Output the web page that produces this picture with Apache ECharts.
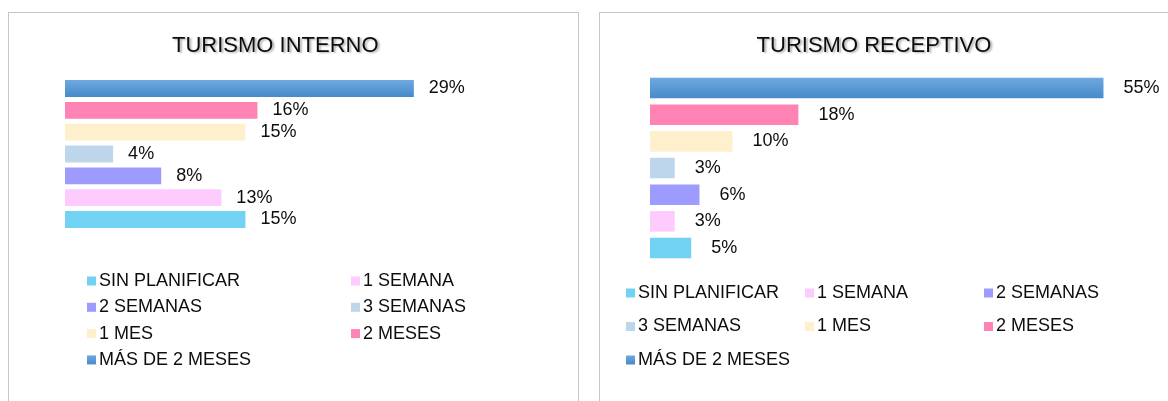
<!DOCTYPE html>
<html>
<head>
<meta charset="utf-8">
<script src="https://cdn.jsdelivr.net/npm/echarts@6/dist/echarts.min.js"></script>
<style>
    html, body { margin: 0; padding: 0; background: #fff; }
    body { width: 1168px; height: 401px; position: relative; overflow: hidden; }
    .panel { position: absolute; box-sizing: border-box; border: 1px solid #c6c6c6; background: #fff; }
    #interno-chart { left: 8px; top: 12px; width: 571px; height: 400px; }
    #receptivo-chart { left: 599px; top: 12px; width: 580px; height: 400px; }
</style>
</head>
<body>
<div id="interno-chart" class="panel"></div>
<div id="receptivo-chart" class="panel"></div>
<script>
'use strict'

// categorias (de abajo hacia arriba)
var categorias = ['SIN PLANIFICAR', '1 SEMANA', '2 SEMANAS', '3 SEMANAS', '1 MES', '2 MESES', 'MÁS DE 2 MESES'];
// porcentajes
var interno = [15, 13, 8, 4, 15, 16, 29];
var receptivo = [5, 3, 6, 3, 10, 18, 55];

var fuente = "'Liberation Sans', Arial, sans-serif";
var colores = [
    '#72d2f4',
    '#fdcbfd',
    '#9d9bfd',
    '#bdd6ec',
    '#fff0cd',
    '#ff83b4',
    new echarts.graphic.LinearGradient(0, 0, 0, 1, [
        { offset: 0, color: '#6ea9df' },
        { offset: 1, color: '#4889cb' }
    ])
];

function crearSeries(valores, distancia) {
    var series = [];
    for (var i = 0; i < categorias.length; i++) {
        var datos = [];
        for (var j = 0; j < categorias.length; j++) {
            datos.push(j === i ? valores[i] : '-');
        }
        series.push({
            name: categorias[i],
            type: 'bar',
            stack: 'total',
            barCategoryGap: '23%',
            itemStyle: { color: colores[i] },
            label: {
                show: true,
                position: 'right',
                distance: distancia,
                formatter: '{c}%',
                color: '#0d0d0d',
                fontFamily: fuente,
                fontSize: 18
            },
            data: datos
        });
    }
    return series;
}

function leyenda(nombres, left, top, gap) {
    return {
        orient: 'vertical',
        left: left,
        top: top,
        padding: 0,
        itemGap: gap,
        itemWidth: 9,
        itemHeight: 9,
        icon: 'rect',
        selectedMode: false,
        textStyle: { color: '#0d0d0d', fontFamily: fuente, fontSize: 18, padding: [0, 0, 0, -2] },
        data: nombres
    };
}

function titulo(texto, left, top) {
    return {
        text: texto,
        left: left,
        top: top,
        padding: 0,
        textStyle: {
            color: '#0d0d0d',
            fontFamily: fuente,
            fontSize: 22,
            fontWeight: 'normal',
            textShadowColor: 'rgba(0,0,0,0.3)',
            textShadowBlur: 2,
            textShadowOffsetX: 2,
            textShadowOffsetY: 1
        }
    };
}

var chartInterno = echarts.init(document.getElementById('interno-chart'));
chartInterno.setOption({
    animation: false,
    title: titulo('TURISMO INTERNO', 163, 22),
    legend: [
        leyenda(['SIN PLANIFICAR', '2 SEMANAS', '1 MES', 'MÁS DE 2 MESES'], 78, 259, 8.3),
        leyenda(['1 SEMANA', '3 SEMANAS', '2 MESES'], 342, 259, 8.3)
    ],
    grid: { left: 56, top: 64.6, width: 421, height: 152.8 },
    xAxis: { type: 'value', min: 0, max: 35, show: false },
    yAxis: { type: 'category', data: categorias, show: false },
    series: crearSeries(interno, 15)
});

var chartReceptivo = echarts.init(document.getElementById('receptivo-chart'));
chartReceptivo.setOption({
    animation: false,
    title: titulo('TURISMO RECEPTIVO', 156.6, 22),
    legend: [
        leyenda(['SIN PLANIFICAR', '3 SEMANAS', 'MÁS DE 2 MESES'], 26, 271, 15.5),
        leyenda(['1 SEMANA', '1 MES'], 205, 271, 15.5),
        leyenda(['2 SEMANAS', '2 MESES'], 384, 271, 15.5)
    ],
    grid: { left: 50, top: 61.7, width: 494.7, height: 186.7 },
    xAxis: { type: 'value', min: 0, max: 60, show: false },
    yAxis: { type: 'category', data: categorias, show: false },
    series: crearSeries(receptivo, 20)
});
</script>
</body>
</html>
